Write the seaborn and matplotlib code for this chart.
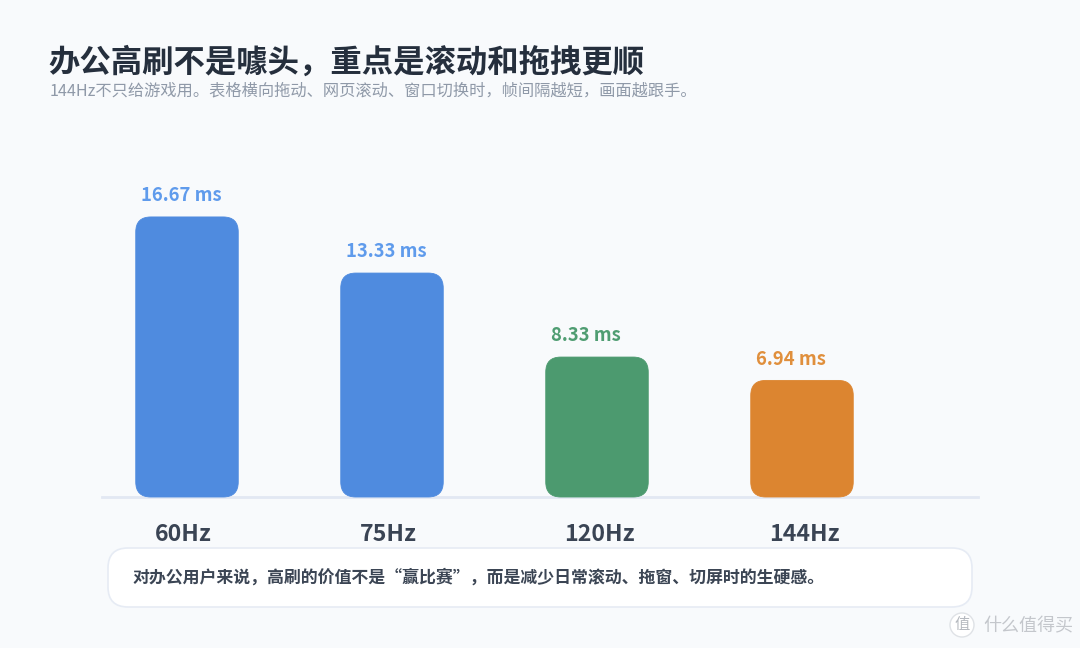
import matplotlib
matplotlib.use("Agg")
import matplotlib.pyplot as plt
import matplotlib.transforms as mtrans
from matplotlib.patches import FancyBboxPatch, Circle
import pandas as pd
import seaborn as sns

#Data
rates = ['60Hz', '75Hz', '120Hz', '144Hz']
frame_ms = [16.67, 13.33, 8.33, 6.94]
value_labels = ['16.67 ms', '13.33 ms', '8.33 ms', '6.94 ms']
bar_colors = ['#4f8bdf', '#4f8bdf', '#4c9a6f', '#dc8530']
label_colors = ['#5f9bec', '#5f9bec', '#4f9d72', '#e08f3c']

title = '办公高刷不是噱头，重点是滚动和拖拽更顺'
subtitle = '144Hz不只给游戏用。表格横向拖动、网页滚动、窗口切换时，帧间隔越短，画面越跟手。'
note = '对办公用户来说，高刷的价值不是“赢比赛”，而是减少日常滚动、拖窗、切屏时的生硬感。'
watermark = '什么值得买'

BG = '#f8fafc'
W, H = 1080, 648
PX_X = 205      #pixels per category
PX_Y = 16.8     #pixels per ms

sns.set_theme(style='white')
plt.rcParams['font.family'] = ['Noto Sans CJK SC', 'DejaVu Sans']

fig = plt.figure(figsize=(W / 100, H / 100), dpi=100, facecolor=BG)

#Overlay in pixel coordinates for the title and the note card
bg = fig.add_axes([0, 0, 1, 1], zorder=0)
bg.set_xlim(0, W)
bg.set_ylim(H, 0)
bg.axis('off')

#Chart axes, baseline at y=497
ax = fig.add_axes([102 / W, (H - 497) / H, 876 / W, 347 / H], zorder=1)
ax.patch.set_alpha(0)

df = pd.DataFrame({'rate': rates, 'ms': frame_ms})
sns.barplot(data=df, x='rate', y='ms', hue='rate', palette=bar_colors,
            saturation=1, width=0.5, legend=False, ax=ax)

ax.set_xlim(-85 / PX_X, 791 / PX_X)
ax.set_ylim(0, 347 / PX_Y)
ax.set_xlabel('')
ax.set_ylabel('')
ax.set_yticks([])
sns.despine(ax=ax, left=True)
ax.spines['bottom'].set_color('#e2e8f3')
ax.spines['bottom'].set_linewidth(2)
ax.tick_params(axis='x', length=0, pad=19)

#Swap square bars for rounded ones, same geometry
for bar, c in zip(list(ax.patches), bar_colors):
    rounded = FancyBboxPatch((bar.get_x(), bar.get_y()), bar.get_width(), bar.get_height(),
                             boxstyle='round,pad=0,rounding_size=%f' % (15 / PX_X),
                             mutation_aspect=PX_X / PX_Y,
                             facecolor=c, edgecolor=c, linewidth=0.6, alpha=1, zorder=3,
                             clip_on=False)
    ax.add_patch(rounded)
    bar.set_visible(False)

#Tick and value labels start from a fixed inset off the bar's left edge, not centred
half_bar = 51.5
shift = mtrans.ScaledTranslation((19 - half_bar) / 100, 0, fig.dpi_scale_trans)
for lab in ax.get_xticklabels():
    lab.set_fontsize(16.7)
    lab.set_fontweight('bold')
    lab.set_color('#3a4454')
    lab.set_ha('left')
    lab.set_transform(lab.get_transform() + shift)

for i, v in enumerate(frame_ms):
    ax.annotate(value_labels[i], xy=(i, v), xytext=((5.5 - half_bar) * 0.72, 8.5),
                textcoords='offset points', ha='left', va='bottom', fontsize=13.3,
                fontweight='bold', color=label_colors[i], annotation_clip=False)

#Title block
bg.text(48, 63, title, fontsize=22.6, fontweight='bold', color='#252f3d', ha='left', va='center')
bg.text(50, 91, subtitle, fontsize=11.7, color='#8f99a8', ha='left', va='center')

#Note card
bg.add_patch(FancyBboxPatch((108, 548), 864, 59, boxstyle='round,pad=0,rounding_size=20',
                            facecolor='white', edgecolor='#e6ebf4', linewidth=1.2))
bg.text(132, 578, note, fontsize=12.2, fontweight='bold', color='#3b4554', ha='left', va='center')

#Watermark
bg.add_patch(Circle((962, 625), 12, facecolor='#ffffff', edgecolor='#dfe2e6', linewidth=1))
bg.text(962, 625, '值', fontsize=11, color='#b5b9bf', ha='center', va='center')
bg.text(983, 626, watermark, fontsize=13, color='#c4c7cc', ha='left', va='center')

fig.savefig('out.png', dpi=100, facecolor=BG)
